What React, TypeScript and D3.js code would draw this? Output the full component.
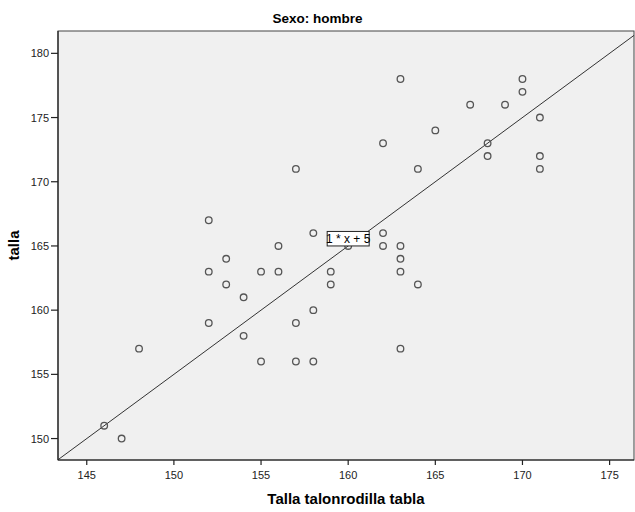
import React from "react";
import * as d3 from "d3";

const title = "Sexo: hombre";
const xLabel = "Talla talonrodilla tabla";
const yLabel = "talla";
const xTicks = [145, 150, 155, 160, 165, 170, 175];
const yTicks = [150, 155, 160, 165, 170, 175, 180];
const xDomain = [143.35, 176.4];
const yDomain = [148.33, 181.74];
const refSlope = 1;
const refIntercept = 5;
const refLabel = "1 * x + 5";
const refLabelX = 160;

const talonrodilla = [
  146, 147, 148,
  152, 152, 152, 153, 153, 154, 154, 155, 155, 156, 156,
  157, 157, 157, 158, 158, 158, 159, 159, 160,
  162, 162, 162, 163, 163, 163, 163, 163, 164, 164, 165,
  167, 168, 168, 169, 170, 170, 171, 171, 171,
];
const talla = [
  151, 150, 157,
  167, 163, 159, 164, 162, 161, 158, 163, 156, 165, 163,
  171, 159, 156, 166, 160, 156, 163, 162, 165,
  166, 165, 173, 178, 165, 164, 163, 157, 171, 162, 174,
  176, 173, 172, 176, 178, 177, 175, 172, 171,
];

export default function App() {
  const W = 635, H = 512;
  const left = 58, right = 634, top = 31, bottom = 460;
  const x = d3.scaleLinear().domain(xDomain).range([left, right]);
  const y = d3.scaleLinear().domain(yDomain).range([bottom, top]);
  const pts = talonrodilla.map((v, i) => [v, talla[i]]);
  const lineX0 = xDomain[0];
  const lineX1 = Math.min(xDomain[1], yDomain[1] - refIntercept);
  const line = d3.line<number>().x((d) => x(d)).y((d) => y(refSlope * d + refIntercept));
  const lx = x(refLabelX);
  const ly = y(refSlope * refLabelX + refIntercept);
  const font = "Arial, 'Liberation Sans', sans-serif";
  return (
    <svg width={W} height={H} style={{ position: "absolute", left: 0, top: 0, background: "#fff" }} fontFamily={font}>
      <text x={W / 2} y={23} textAnchor="middle" fontWeight="bold" fontSize={13.5} fill="#000">{title}</text>
      <rect x={left} y={top} width={right - left} height={bottom - top} fill="#F0F0F0" stroke="#444" strokeWidth={1} />
      <defs>
        <clipPath id="plotclip"><rect x={left} y={top} width={right - left} height={bottom - top} /></clipPath>
      </defs>
      <path d={line([lineX0, lineX1]) || ""} stroke="#333" strokeWidth={1} fill="none" clipPath="url(#plotclip)" />
      {pts.map((p, i) => (
        <circle key={i} cx={x(p[0])} cy={y(p[1])} r={3.3} fill="none" stroke="#555" strokeWidth={1.3} />
      ))}
      <rect x={lx - 21} y={ly - 14.5} width={42} height={14.5} fill="#fff" stroke="#222" strokeWidth={1} />
      <text x={lx} y={ly - 3} textAnchor="middle" fontSize={12} fill="#000">{refLabel}</text>
      <line x1={left} x2={right} y1={bottom} y2={bottom} stroke="#222" strokeWidth={1.2} />
      <line x1={left} x2={left} y1={top} y2={bottom} stroke="#222" strokeWidth={1.2} />
      {xTicks.map((t) => (
        <g key={t}>
          <line x1={x(t)} x2={x(t)} y1={bottom} y2={bottom + 5} stroke="#222" strokeWidth={1.2} />
          <text x={x(t)} y={478.5} textAnchor="middle" fontSize={11} fill="#222">{t}</text>
        </g>
      ))}
      {yTicks.map((t) => (
        <g key={t}>
          <line x1={left - 7} x2={left} y1={y(t)} y2={y(t)} stroke="#222" strokeWidth={1.2} />
          <text x={49} y={y(t) + 4} textAnchor="end" fontSize={11} fill="#222">{t}</text>
        </g>
      ))}
      <text x={(left + right) / 2} y={504} textAnchor="middle" fontWeight="bold" fontSize={15} fill="#000">{xLabel}</text>
      <text transform={`translate(19,${(top + bottom) / 2}) rotate(-90)`} textAnchor="middle" fontWeight="bold" fontSize={15} fill="#000">{yLabel}</text>
    </svg>
  );
}
